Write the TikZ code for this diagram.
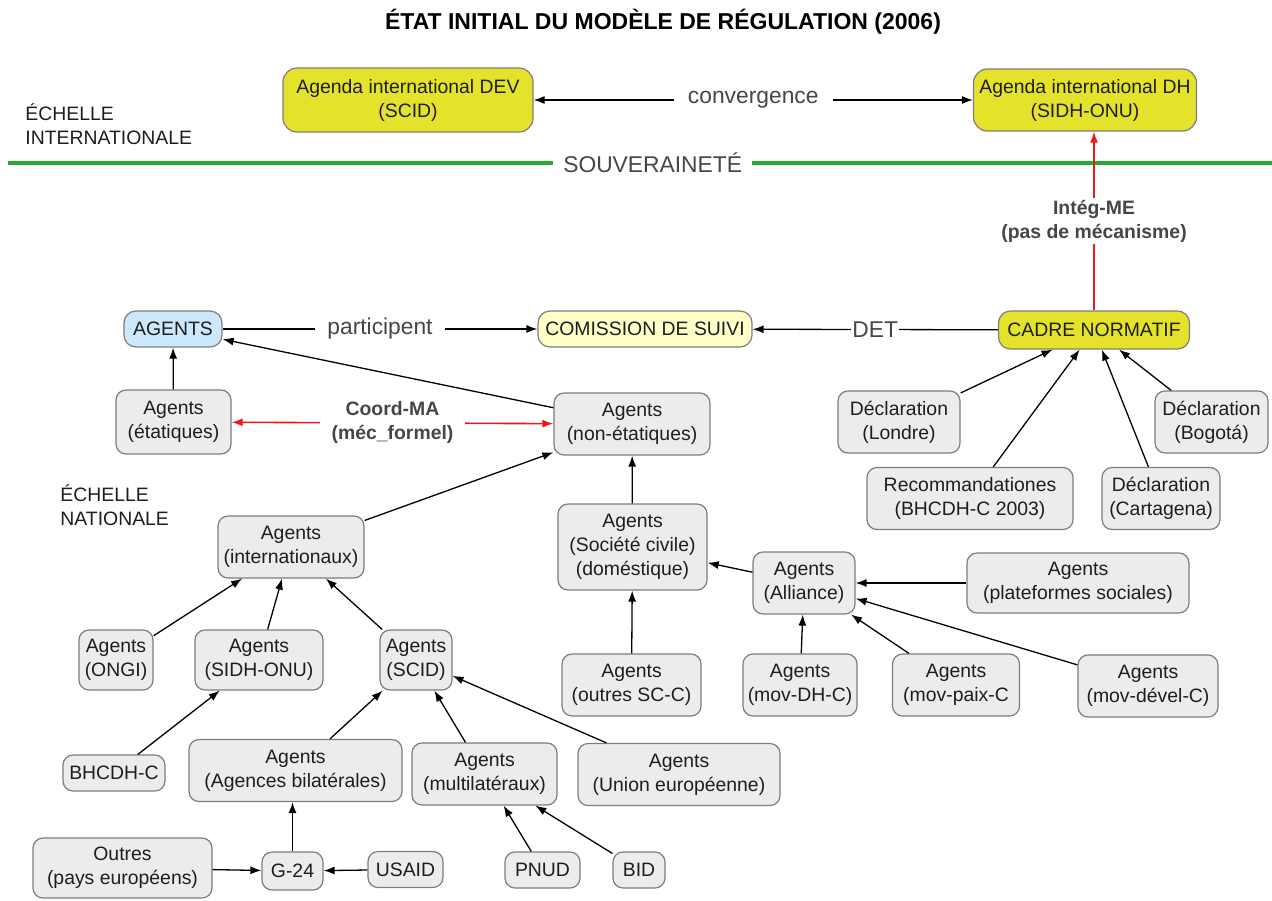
\documentclass[tikz,border=0pt]{standalone}
\usepackage{fontspec}
\setmainfont{Liberation Sans}
\usetikzlibrary{arrows.meta,positioning}

\definecolor{boxgray}{RGB}{236,236,236}
\definecolor{edgegray}{RGB}{125,125,125}
\definecolor{inkgray}{RGB}{30,30,30}
\definecolor{labelgray}{RGB}{70,70,70}
\definecolor{agendayellow}{RGB}{229,226,44}
\definecolor{suiviyellow}{RGB}{255,255,200}
\definecolor{agentblue}{RGB}{204,232,252}
\definecolor{souvgreen}{RGB}{40,170,50}
\definecolor{mechred}{RGB}{235,25,25}

\begin{document}
\begin{tikzpicture}[x=0.5pt, y=-0.5pt,
        >={Latex[length=5.5pt,width=4pt]},
        font=\fontsize{9.7}{12}\selectfont,
        agent block/.style={rectangle, draw=edgegray, line width=0.6pt, fill=boxgray, text=inkgray, align=center, rounded corners=5pt, inner xsep=2pt, minimum height=31pt},
        tag block/.style={agent block, minimum height=18pt},
        key block/.style={agent block, rounded corners=6pt},
        link label/.style={fill=white, text=labelgray, font=\fontsize{11.4}{13}\selectfont, inner xsep=6pt, inner ysep=1pt},
        mech label/.style={fill=white, text=labelgray, font=\fontsize{9.7}{12}\selectfont\bfseries, align=center, inner xsep=6pt, inner ysep=1pt},
        scale label/.style={align=left, anchor=west, text=inkgray, inner sep=0pt},
        line/.style={draw, ->, line width=0.65pt},
        mech line/.style={line, draw=mechred, line width=0.8pt}]
        \useasboundingbox (0,0) rectangle (1272,900);

        % title and scales
        \node [font=\fontsize{11.5}{14}\selectfont\bfseries] (title) at (663,22) {ÉTAT INITIAL DU MODÈLE DE RÉGULATION (2006)};
        \node [scale label] (intscale) at (25,124) {ÉCHELLE\\INTERNATIONALE};
        \node [scale label] (natscale) at (60,505) {ÉCHELLE\\NATIONALE};

        \coordinate (souv west) at (8,163);
        \coordinate (souv east) at (1272,163);
        \draw [souvgreen, line width=2pt] (souv west) -- node [pos=0.51, link label, inner xsep=5pt] (souv) {SOUVERAINETÉ} (souv east);

        % international agendas
        \node [key block, fill=agendayellow, minimum width=125pt, minimum height=32pt, rounded corners=7pt] (devag) at (408,100) {Agenda international DEV\\(SCID)};
        \node [key block, fill=agendayellow, minimum width=111.5pt, minimum height=31pt, rounded corners=7pt] (dhag) at (1085,100) {Agenda international DH\\(SIDH-ONU)};
        \path [line, <->] (devag) -- node [link label, inner xsep=7pt] {convergence} (dhag);

        % main row
        \node [key block, fill=agentblue, minimum width=49pt, minimum height=18pt] (agents) at (173,329) {AGENTS};
        \node [key block, fill=suiviyellow, minimum width=107pt, minimum height=18pt] (comm) at (645,329) {COMISSION DE SUIVI};
        \node [key block, fill=agendayellow, minimum width=95.5pt, minimum height=19pt] (cadre) at (1094,330) {CADRE NORMATIF};
        \path [line] (agents) -- node [link label] {participent} (comm);
        \path [line] (cadre) -- node [link label, inner xsep=0.5pt] {DET} (comm);
        \path [mech line] (cadre) -- node [mech label] {Intég-ME\\(pas de mécanisme)} (cadre |- dhag.south);

        % agents
        \node [agent block, minimum width=57.5pt, minimum height=32pt] (etat) at (173.5,422) {Agents\\(étatiques)};
        \node [agent block, minimum width=78pt] (nonetat) at (632,424) {Agents\\(non-étatiques)};
        \path [line] (etat) -- (agents);
        \path [line] (nonetat) -- (agents);
        \path [mech line, <->] (etat) -- node [mech label] {Coord-MA\\(méc\_formel)} (nonetat);

        % normative framework
        \node [agent block, minimum width=61pt] (londre) at (899,422) {Déclaration\\(Londre)};
        \node [agent block, minimum width=56.5pt] (bogota) at (1211.5,422) {Déclaration\\(Bogotá)};
        \node [agent block, minimum width=103pt] (recom) at (970,498.5) {Recommandationes\\(BHCDH-C 2003)};
        \node [agent block, minimum width=59pt] (carta) at (1161,498.5) {Déclaration\\(Cartagena)};
        \foreach \src in {londre, recom, carta, bogota}
            \path [line] (\src) -- (cadre);

        % international agents
        \node [agent block, minimum width=73pt] (intl) at (291,547) {Agents\\(internationaux)};
        \node [agent block, minimum width=37pt, minimum height=30pt] (ongi) at (116,660) {Agents\\(ONGI)};
        \node [agent block, minimum width=64pt, minimum height=30pt] (sidh) at (259,660) {Agents\\(SIDH-ONU)};
        \node [agent block, minimum width=36pt, minimum height=30pt] (scid) at (416,660) {Agents\\(SCID)};
        \path [line] (intl) -- (nonetat);
        \foreach \src in {ongi, sidh, scid}
            \path [line] (\src) -- (intl);

        \node [tag block, minimum width=51pt] (bhcdh) at (114,773) {BHCDH-C};
        \node [agent block, minimum width=106.5pt] (bilat) at (295.5,770.5) {Agents\\(Agences bilatérales)};
        \node [agent block, minimum width=72.5pt] (multi) at (484.5,774) {Agents\\(multilatéraux)};
        \node [agent block, minimum width=101pt] (ue) at (679,774.5) {Agents\\(Union européenne)};
        \path [line] (bhcdh) -- (sidh);
        \foreach \src in {bilat, multi, ue}
            \path [line] (\src) -- (scid);

        \node [agent block, minimum width=89.5pt, minimum height=30pt] (outres) at (122.5,868) {Outres\\(pays européens)};
        \node [tag block, minimum width=30.5pt, minimum height=19pt] (g24) at (292.5,871) {G-24};
        \node [tag block, minimum width=37.5pt] (usaid) at (405.5,869.5) {USAID};
        \node [tag block, minimum width=37.5pt] (pnud) at (542.5,870) {PNUD};
        \node [tag block, minimum width=26pt] (bid) at (639,870) {BID};
        \path [line] (outres) -- (g24);
        \path [line] (usaid) -- (g24);
        \path [line] (g24) -- (g24 |- bilat.south);
        \path [line] (pnud) -- (multi);
        \path [line] (bid) -- (multi);

        % civil society
        \node [agent block, minimum width=74.5pt, minimum height=43pt] (socciv) at (632.5,547) {Agents\\(Société civile)\\(doméstique)};
        \node [agent block, minimum width=69.5pt] (outsc) at (631.5,685) {Agents\\(outres SC-C)};
        \node [agent block, minimum width=51pt] (alliance) at (804,583) {Agents\\(Alliance)};
        \node [agent block, minimum width=111pt, minimum height=30pt] (plat) at (1078,583) {Agents\\(plateformes sociales)};
        \node [agent block, minimum width=57pt] (movdh) at (800,685) {Agents\\(mov-DH-C)};
        \node [agent block, minimum width=63.5pt] (movpaix) at (956,685) {Agents\\(mov-paix-C};
        \node [agent block, minimum width=70pt] (movdev) at (1148,686) {Agents\\(mov-dével-C)};
        \path [line] (socciv) -- (nonetat);
        \path [line] (outsc) -- (socciv);
        \path [line] (alliance) -- (socciv);
        \foreach \src in {plat, movdh, movpaix, movdev}
            \path [line] (\src) -- (alliance);
    \end{tikzpicture}
\end{document}
